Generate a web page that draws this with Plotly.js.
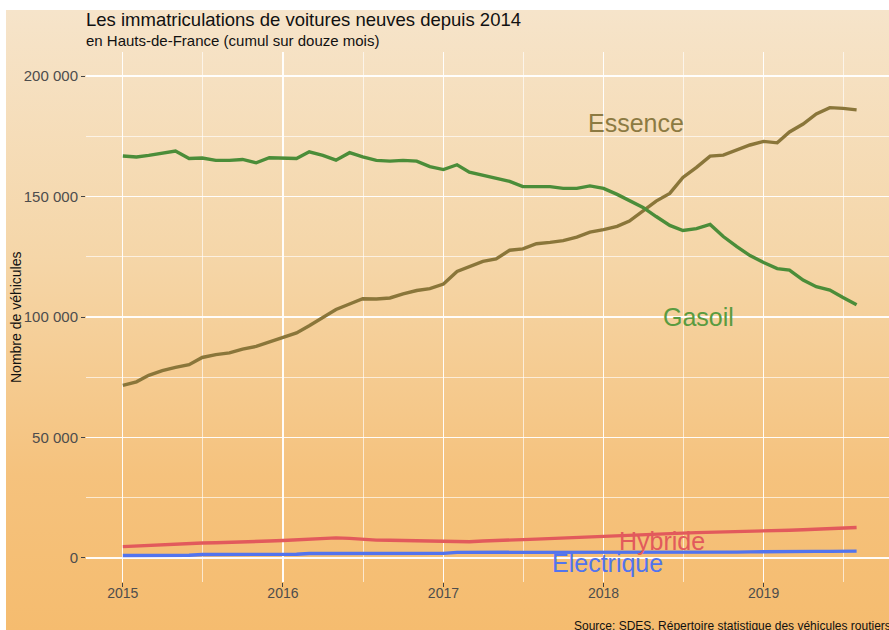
<!DOCTYPE html>
<html>
<head>
<meta charset="utf-8">
<script src="https://cdn.plot.ly/plotly-3.0.1.min.js"></script>
<style>
  html, body { margin:0; padding:0; width:889px; height:630px; overflow:hidden; background:#ffffff; }
  #bg { position:absolute; left:6px; top:10px; width:883px; height:620px;
        background: linear-gradient(to bottom, #F6E4CA 0%, #F5D6A8 40%, #F5C27D 75%, #F5BC6F 100%); }
  #chart { position:absolute; left:0; top:0; width:900px; height:630px; }
</style>
</head>
<body>
<div id="bg"></div>
<div id="chart"></div>
<script>
// Months (Jan 2015 - Aug 2019)
var months = [
  "2015-01","2015-02","2015-03","2015-04","2015-05","2015-06","2015-07","2015-08","2015-09","2015-10","2015-11","2015-12",
  "2016-01","2016-02","2016-03","2016-04","2016-05","2016-06","2016-07","2016-08","2016-09","2016-10","2016-11","2016-12",
  "2017-01","2017-02","2017-03","2017-04","2017-05","2017-06","2017-07","2017-08","2017-09","2017-10","2017-11","2017-12",
  "2018-01","2018-02","2018-03","2018-04","2018-05","2018-06","2018-07","2018-08","2018-09","2018-10","2018-11","2018-12",
  "2019-01","2019-02","2019-03","2019-04","2019-05","2019-06","2019-07","2019-08"
];

var essence = [
  71600, 73100, 75800, 77700, 79100, 80200, 83200, 84400, 85100, 86700, 87800, 89600,
  91600, 93400, 96400, 99900, 103100, 105400, 107600, 107500, 107900, 109600, 111000, 111800,
  113700, 118900, 120900, 123100, 124100, 127700, 128300, 130400, 131000, 131700, 133200, 135200,
  136300, 137600, 139800, 144200, 148100, 151300, 157900, 162100, 166800, 167200, 169400, 171400,
  172900, 172300, 176800, 180100, 184300, 186900, 186600, 186000
];

var gasoil = [
  166800, 166400, 167100, 167900, 168900, 165800, 166000, 165000, 165000, 165400, 164000, 166100,
  166100, 165800, 168600, 167100, 165100, 168200, 166500, 165000, 164700, 165000, 164700, 162400,
  161200, 163200, 160100, 158800, 157500, 156300, 154100, 154100, 154100, 153400, 153400, 154400,
  153400, 150900, 148400, 145500, 141700, 138000, 135900, 136700, 138400, 133400, 129200, 125500,
  122600, 120100, 119500, 115300, 112600, 111200, 108100, 105100
];

var hybride = [
  4700, 5000, 5200, 5400, 5600, 5900, 6200, 6300, 6400, 6500, 6700, 7000,
  7200, 7500, 7900, 8200, 8300, 8100, 7700, 7400, 7300, 7200, 7200, 7200,
  6900, 6700, 6700, 7000, 7300, 7400, 7600, 7800, 8000, 8200, 8500, 8800,
  8900, 9100, 9300, 9600, 9800, 10000, 10300, 10500, 10600, 10800, 11000, 11200,
  11300, 11400, 11500, 11700, 11900, 12100, 12300, 12600
];

var electrique = [
  1000, 1000, 1000, 1000, 1000, 1100, 1400, 1400, 1400, 1400, 1400, 1400,
  1500, 1500, 1800, 1800, 1800, 1800, 1800, 1800, 1800, 1800, 1800, 1800,
  1900, 2300, 2300, 2300, 2200, 2200, 2100, 2100, 2100, 2100, 2100, 2100,
  2100, 2100, 2100, 2100, 2200, 2200, 2200, 2200, 2200, 2300, 2400, 2500,
  2600, 2600, 2600, 2700, 2700, 2700, 2800, 2800
];

var seriesNames = ["Essence", "Gasoil", "Hybride", "Electrique"];
var xTickVals = ["2015-01-01","2016-01-01","2017-01-01","2018-01-01","2019-01-01"];
var xTickText = ["2015","2016","2017","2018","2019"];
var xMinorVals = ["2014-07-02","2015-07-02","2016-07-02","2017-07-02","2018-07-02","2019-07-02"];
var yTickVals = [0, 50000, 100000, 150000, 200000];
var yTickText = ["0","50 000","100 000","150 000","200 000"];
var yMinorVals = [25000, 75000, 125000, 175000];

var colors = {Essence:"#8A763A", Gasoil:"#4B8D39", Hybride:"#E25A5C", Electrique:"#5274EE"};
var labelColors = {Essence:"#8C7A42", Gasoil:"#5A9B40", Hybride:"#E25A5C", Electrique:"#5274EE"};
var values = {Essence:essence, Gasoil:gasoil, Hybride:hybride, Electrique:electrique};

var traces = seriesNames.map(function(n){
  return {x: months, y: values[n], type:"scatter", mode:"lines", name:n,
          line:{color:colors[n], width:3.4}, hoverinfo:"skip"};
});

var FONT = "Liberation Sans, Arial, sans-serif";

var labelPos = {
  Essence:   {x:"2018-03-17", y:180500},
  Gasoil:    {x:"2018-08-05", y:100000},
  Hybride:   {x:"2018-05-15", y:7000},
  Electrique:{x:"2018-01-10", y:-2100}
};

var annotations = seriesNames.map(function(n){
  return {x:labelPos[n].x, y:labelPos[n].y, xref:"x", yref:"y", text:n, showarrow:false,
          xanchor:"center", yanchor:"middle", font:{family:FONT, size:25, color:labelColors[n]}};
});

annotations.push({xref:"paper", yref:"paper", x:-0.002, y:(582-41)/530, xanchor:"left", yanchor:"middle",
  text:"en Hauts-de-France (cumul sur douze mois)", showarrow:false, font:{family:FONT, size:15, color:"#111"}});
annotations.push({xref:"paper", yref:"paper", x:1, y:(582-626)/530, xanchor:"right", yanchor:"middle",
  text:"Source: SDES, Répertoire statistique des véhicules routiers", showarrow:false, font:{family:FONT, size:12, color:"#111"}});
annotations.push({xref:"paper", yref:"paper", x:(16-86)/807, y:0.5, xanchor:"center", yanchor:"middle", textangle:-90,
  text:"Nombre de véhicules", showarrow:false, font:{family:FONT, size:14, color:"#111"}});

var layout = {
  width:900, height:630,
  margin:{l:86, r:7, t:52, b:48},
  paper_bgcolor:"rgba(0,0,0,0)", plot_bgcolor:"rgba(0,0,0,0)",
  showlegend:false,
  font:{family:FONT, color:"#111"},
  title:{text:"Les immatriculations de voitures neuves depuis 2014", xref:"container", yref:"container",
         x:86/900, xanchor:"left", y:1-20/630, yanchor:"middle", font:{family:FONT, size:18.5, color:"#111"}},
  xaxis:{type:"date", range:["2014-10-09","2019-10-23"], tickmode:"array", tickvals:xTickVals, ticktext:xTickText,
         ticks:"outside", ticklen:4, tickwidth:1, tickcolor:"#444", showline:false, zeroline:false,
         ticklabelstandoff:-6,
         showgrid:true, gridcolor:"rgba(255,255,255,0.95)", gridwidth:1.2,
         tickfont:{family:FONT, size:14, color:"#4D4D4D"},
         minor:{tickmode:"array", tickvals:xMinorVals, showgrid:true, gridcolor:"rgba(255,255,255,0.8)", gridwidth:0.8, ticks:""}},
  yaxis:{range:[-10000, 210000], tickmode:"array", tickvals:yTickVals, ticktext:yTickText,
         ticks:"outside", ticklen:4, tickwidth:1, tickcolor:"#444", showline:false, zeroline:false,
         showgrid:true, gridcolor:"rgba(255,255,255,0.95)", gridwidth:1.2,
         tickfont:{family:FONT, size:15, color:"#4D4D4D"},
         minor:{tickmode:"array", tickvals:yMinorVals, showgrid:true, gridcolor:"rgba(255,255,255,0.8)", gridwidth:0.8, ticks:""}},
  annotations:annotations
};

Plotly.newPlot("chart", traces, layout, {displayModeBar:false, staticPlot:true});
</script>
</body>
</html>
